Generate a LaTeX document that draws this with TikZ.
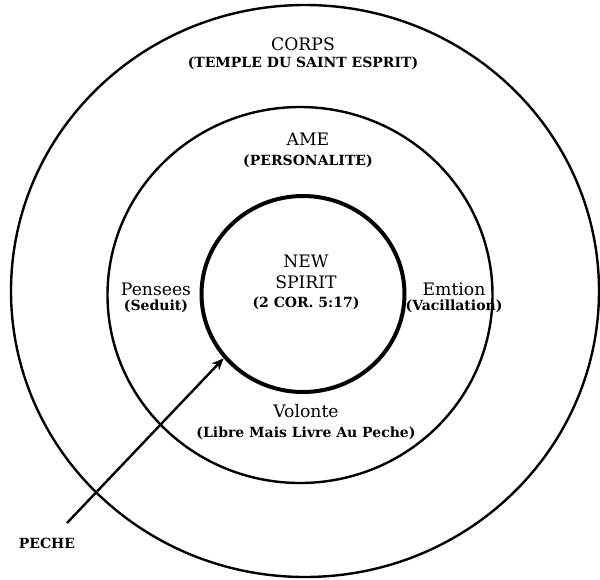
\documentclass[tikz,border=0pt]{standalone}
\usepackage{fontspec}
\setmainfont{DejaVu Serif}
\usepackage{tikz}
\usetikzlibrary{arrows.meta,positioning,shapes.geometric}
\newcommand{\lblfont}{\fontsize{8.6}{10}\selectfont}
\newcommand{\subfont}{\fontsize{7}{8}\selectfont\bfseries}

\begin{document}
\begin{tikzpicture}[
  x=0.5pt, y=-0.5pt,
  node distance=4pt,
  ring/.style={ellipse, draw, line width=1.2pt, inner sep=0pt},
  core/.style={ellipse, draw, line width=2pt, inner sep=0pt},
  lbl/.style={font=\lblfont, inner sep=0pt, text height=6.2pt, text depth=0pt, anchor=base},
  sub/.style={font=\subfont, inner sep=0pt, text height=5.1pt, text depth=1.4pt},
  arrow/.style={-{Stealth[length=6pt, width=5pt]}, line width=1.2pt},
]
  \useasboundingbox (0,0) rectangle (600,579);

  % the three rings
  \node[ring, minimum width=294pt, minimum height=286pt] (corps) at (305,291) {};
  \node[ring, minimum width=192.5pt, minimum height=188pt] (ame) at (300,295) {};
  \node[core, minimum width=101.5pt, minimum height=98pt] (spirit) at (303,294) {};

  % outer ring
  \node[lbl] (corpslbl) at (303,50) {CORPS};
  \node[sub, below=3.2pt of corpslbl] (corpssub) {(TEMPLE DU SAINT ESPRIT)};

  % middle ring
  \node[lbl] (amelbl) at (308,145) {AME};
  \node[sub, below=4.8pt of amelbl] (amesub) {(PERSONALITE)};
  \node[lbl] (pensees) at (156,295) {Pensees};
  \node[sub, below=2.4pt of pensees] (seduit) {(Seduit)};
  \node[lbl] (emtion) at (454,295) {Emtion};
  \node[sub, below=2.4pt of emtion] (vacil) {(Vacillation)};
  \node[lbl] (volonte) at (306,417) {Volonte};
  \node[sub, below=4.8pt of volonte] (libre) {(Libre Mais Livre Au Peche)};

  % core
  \node[lbl] (newlbl) at (306,267) {NEW};
  \node[lbl, below=of newlbl] (spiritlbl) {SPIRIT};
  \node[sub, below=of spiritlbl] (cor) {(2 COR. 5:17)};

  % sin
  \node[sub] (peche) at (47,545) {PECHE};
  \coordinate (sin) at (67,523);
  \draw[arrow] (sin) -- (spirit.219);
\end{tikzpicture}
\end{document}
